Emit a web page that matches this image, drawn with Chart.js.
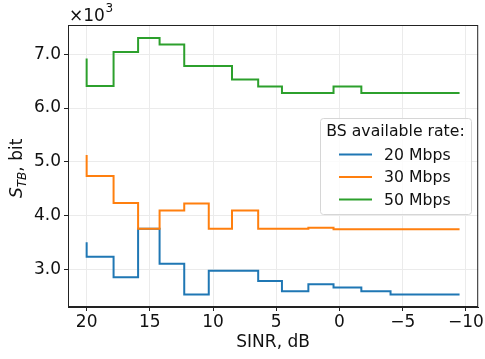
<!DOCTYPE html>
<html>
<head>
<meta charset="utf-8">
<script src="https://cdn.jsdelivr.net/npm/chart.js@4.4.0/dist/chart.umd.min.js"></script>
<style>
  html, body { margin: 0; padding: 0; background: #fff; }
  #wrap { width: 485px; height: 359px; position: relative; }
</style>
</head>
<body>
<div id="wrap"><canvas id="myChart"></canvas></div>
<script>
// SINR thresholds, dB (step edges)
const sinrDb = [20, 17.87, 15.93, 14.23, 12.28, 10.34, 8.5, 6.43, 4.55, 2.46, 0.47, -1.73, -4.04, -9.5];
// transport block size, bit
const rate20 = [3510, 3240, 2860, 3760, 3110, 2540, 2980, 2980, 2790, 2600, 2730, 2670, 2600, 2540];
const rate30 = [5130, 4740, 4240, 3760, 4100, 4230, 3760, 4100, 3760, 3760, 3780, 3750, 3750, 3750];
const rate50 = [6920, 6410, 7040, 7300, 7180, 6780, 6780, 6530, 6400, 6280, 6280, 6400, 6280, 6280];

const seriesLabels = ['20 Mbps', '30 Mbps', '50 Mbps'];
const seriesColors = ['#1f77b4', '#ff7f0e', '#2ca02c'];
const xTicks = [20, 15, 10, 5, 0, -5, -10];
const yTicks = [3000, 4000, 5000, 6000, 7000];
const legendTitle = 'BS available rate:';

const FONT = "'DejaVu Sans', sans-serif";

const toPoints = (vals) => sinrDb.map((x, i) => ({ x, y: vals[i] }));

// right/top frame, y title with subscript, x10^3 label, legend box
const extras = {
  id: 'extras',
  afterDraw(chart) {
    const ctx = chart.ctx;
    const a = chart.chartArea;
    ctx.save();
    ctx.strokeStyle = '#222';
    ctx.lineWidth = 1;
    ctx.strokeRect(a.left + 0.5, a.top + 0.5, a.right - a.left - 1, a.bottom - a.top - 1);

    // y axis title
    ctx.fillStyle = '#111';
    ctx.translate(22, 198);
    ctx.rotate(-Math.PI / 2);
    ctx.textBaseline = 'alphabetic';
    ctx.textAlign = 'left';
    ctx.font = 'italic 17px ' + FONT;
    ctx.fillText('S', 0, 0);
    let w = ctx.measureText('S').width;
    ctx.font = 'italic 12px ' + FONT;
    ctx.fillText('TB', w, 4);
    w += ctx.measureText('TB').width;
    ctx.font = '17px ' + FONT;
    ctx.fillText(', bit', w, 0);
    ctx.setTransform(1, 0, 0, 1, 0, 0);

    // scale multiplier
    ctx.font = '17px ' + FONT;
    ctx.fillText('\u00d710', 69, 21);
    const mw = ctx.measureText('\u00d710').width;
    ctx.font = '12px ' + FONT;
    ctx.fillText('3', 69 + mw + 0.5, 12);

    // legend
    const bx = 320, by = 118, bw = 151, bh = 96;
    ctx.beginPath();
    ctx.roundRect(bx + 0.5, by + 0.5, bw, bh, 3);
    ctx.fillStyle = 'rgba(255,255,255,0.8)';
    ctx.fill();
    ctx.strokeStyle = '#d6d6d6';
    ctx.stroke();
    ctx.fillStyle = '#111';
    ctx.font = '15.7px ' + FONT;
    ctx.textBaseline = 'middle';
    ctx.textAlign = 'center';
    ctx.fillText(legendTitle, bx + bw / 2, 132);
    ctx.textAlign = 'left';
    const rows = [154.5, 177, 199.5];
    seriesLabels.forEach((lab, i) => {
      ctx.strokeStyle = seriesColors[i];
      ctx.lineWidth = 2;
      ctx.beginPath();
      ctx.moveTo(339, rows[i]);
      ctx.lineTo(372, rows[i]);
      ctx.stroke();
      ctx.fillText(lab, 384, rows[i] + 1);
    });
    ctx.restore();
  }
};

const ctx = document.getElementById('myChart').getContext('2d');
new Chart(ctx, {
  type: 'line',
  data: {
    datasets: [rate20, rate30, rate50].map((vals, i) => ({
      label: seriesLabels[i],
      data: toPoints(vals),
      borderColor: seriesColors[i],
      backgroundColor: seriesColors[i],
      borderWidth: 2,
      pointRadius: 0,
      stepped: 'after',
      fill: false,
      order: 3 - i
    }))
  },
  options: {
    responsive: true,
    maintainAspectRatio: false,
    animation: false,
    layout: { padding: { top: 25, right: 6, left: 0, bottom: 0 } },
    plugins: {
      legend: { display: false },
      tooltip: { enabled: false }
    },
    scales: {
      x: {
        type: 'linear',
        reverse: true,
        min: -10.975,
        max: 21.475,
        afterBuildTicks: (s) => { s.ticks = xTicks.map(v => ({ value: v })); },
        afterFit: (s) => { s.height = 52; },
        ticks: {
          color: '#111',
          font: { family: FONT, size: 17 },
          padding: 1,
          maxRotation: 0,
          callback: (v) => (v < 0 ? '\u2212' + Math.abs(v) : String(v))
        },
        grid: { color: '#ebebeb', tickColor: '#222', tickLength: 4, lineWidth: 1 },
        border: { color: '#222', width: 1 },
        title: {
          display: true,
          text: 'SINR, dB',
          color: '#111',
          font: { family: FONT, size: 17 },
          padding: { top: 0, bottom: 6 }
        }
      },
      y: {
        min: 2310,
        max: 7540,
        afterBuildTicks: (s) => { s.ticks = yTicks.map(v => ({ value: v })); },
        afterFit: (s) => { s.width = 68; },
        ticks: {
          color: '#111',
          font: { family: FONT, size: 17 },
          padding: 3,
          callback: (v) => (v / 1000).toFixed(1)
        },
        grid: { color: '#ebebeb', tickColor: '#222', tickLength: 4, lineWidth: 1 },
        border: { color: '#222', width: 1 }
      }
    }
  },
  plugins: [extras]
});
</script>
</body>
</html>
